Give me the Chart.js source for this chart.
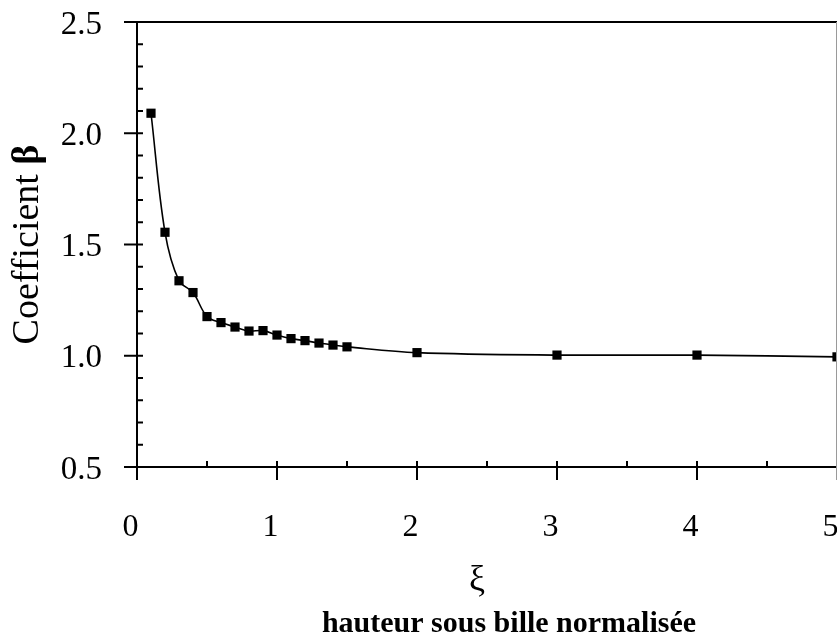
<!DOCTYPE html>
<html><head><meta charset="utf-8">
<script src="https://cdn.jsdelivr.net/npm/chart.js@4.4.0/dist/chart.umd.min.js"></script>
<style>
html,body{margin:0;padding:0;background:#fff;overflow:hidden;width:837px;height:640px}
#wrap{position:absolute;left:0;top:0;width:900px;height:640px}
</style>
</head><body><div id="wrap"><canvas id="c" width="900" height="640"></canvas></div>
<script>
const xi   = [0.1, 0.2, 0.3, 0.4, 0.5, 0.6, 0.7, 0.8, 0.9, 1.0, 1.1, 1.2, 1.3, 1.4, 1.5, 2, 3, 4, 5];
const beta = [2.09, 1.555, 1.337, 1.284, 1.176, 1.149, 1.129, 1.111, 1.113, 1.093, 1.077, 1.068, 1.057, 1.048, 1.040, 1.014, 1.003, 1.003, 0.995];
const xMajorTicks = [0, 1, 2, 3, 4, 5];
const xMinorTicks = [0.5, 1.5, 2.5, 3.5, 4.5];
const yMajorTicks = [0.5, 1.0, 1.5, 2.0, 2.5];
const yMinorTicks = [0.6, 0.7, 0.8, 0.9, 1.1, 1.2, 1.3, 1.4, 1.6, 1.7, 1.8, 1.9, 2.1, 2.2, 2.3, 2.4];
const yTitleText = 'Coefficient ';
const yTitleSymbol = 'β';
const xTitleText = 'ξ';
const xSubtitleText = 'hauteur sous bille normalisée';

const SERIF = "'Liberation Serif', 'Times New Roman', serif";

const decor = {
  id: 'decor',
  afterDraw(chart) {
    const {ctx, chartArea: a, scales: {x, y}} = chart;
    ctx.save();
    const line = (x1, y1, x2, y2) => { ctx.beginPath(); ctx.moveTo(x1, y1); ctx.lineTo(x2, y2); ctx.stroke(); };
    ctx.strokeStyle = '#000';
    ctx.lineWidth = 2;
    line(a.left, a.top - 1, a.left, a.bottom + 1);
    line(a.left - 1, a.bottom, a.right, a.bottom);
    line(a.left, a.top, a.right, a.top);
    yMajorTicks.forEach(v => { const p = y.getPixelForValue(v); line(a.left - 13, p, a.left + 6, p); });
    yMinorTicks.forEach(v => { const p = y.getPixelForValue(v); line(a.left, p, a.left + 6, p); });
    xMajorTicks.forEach(v => { if (v >= x.max) return; const p = x.getPixelForValue(v); line(p, a.bottom - 6, p, a.bottom + 13); });
    xMinorTicks.forEach(v => { const p = x.getPixelForValue(v); line(p, a.bottom - 6, p, a.bottom); });
    // right frame (cut at image edge)
    ctx.strokeStyle = '#9a9a9a';
    ctx.lineWidth = 1;
    line(a.right - 0.5, a.top, a.right - 0.5, a.bottom + 13);

    // y title
    ctx.fillStyle = '#000';
    ctx.textBaseline = 'alphabetic';
    ctx.save();
    ctx.translate(38, (a.top + a.bottom) / 2);
    ctx.rotate(-Math.PI / 2);
    ctx.font = "38px " + SERIF;
    const w1 = ctx.measureText(yTitleText).width;
    ctx.font = "bold 38px " + SERIF;
    const w2 = ctx.measureText(yTitleSymbol).width;
    const s = -(w1 + w2) / 2;
    ctx.textAlign = 'left';
    ctx.font = "38px " + SERIF;
    ctx.fillText(yTitleText, s, 0);
    ctx.font = "bold 38px " + SERIF;
    ctx.fillText(yTitleSymbol, s + w1, 0);
    ctx.restore();

    // x titles
    ctx.textAlign = 'center';
    ctx.font = "36px " + SERIF;
    ctx.fillText(xTitleText, (a.left + a.right) / 2 - 10, 590);
    ctx.font = "bold 30px " + SERIF;
    ctx.fillText(xSubtitleText, (a.left + a.right) / 2 + 22, 632);
    ctx.restore();
  }
};

new Chart(document.getElementById('c'), {
  type: 'scatter',
  data: {
    datasets: [{
      data: xi.map((v, i) => ({x: v, y: beta[i]})),
      showLine: true,
      borderColor: '#000',
      borderWidth: 1.6,
      tension: 0.35,
      pointStyle: 'rect',
      pointRadius: 6.5,
      pointHoverRadius: 6.5,
      pointBackgroundColor: '#000',
      pointBorderWidth: 0,
      clip: false
    }]
  },
  options: {
    responsive: false,
    animation: false,
    events: [],
    layout: { padding: { left: 0, top: 22, right: 63, bottom: 93 } },
    plugins: { legend: { display: false }, tooltip: { enabled: false }, title: { display: false } },
    scales: {
      x: {
        type: 'linear', min: 0, max: 5,
        afterFit: s => { s.height = 80; s.paddingLeft = 0; s.paddingRight = 0; },
        grid: { display: false, drawTicks: false },
        border: { display: false },
        ticks: {
          stepSize: 1, color: '#000', padding: 41, labelOffset: -6.5,
          font: { family: SERIF, size: 32 },
          callback: v => String(v)
        }
      },
      y: {
        type: 'linear', min: 0.5, max: 2.5,
        afterFit: s => { s.width = 137; s.paddingTop = 0; s.paddingBottom = 0; },
        grid: { display: false, drawTicks: false },
        border: { display: false },
        ticks: {
          stepSize: 0.5, color: '#000', padding: 35, labelOffset: 3,
          font: { family: SERIF, size: 33 },
          callback: v => Number(v).toFixed(1)
        }
      }
    }
  },
  plugins: [decor]
});
</script>
</body></html>
